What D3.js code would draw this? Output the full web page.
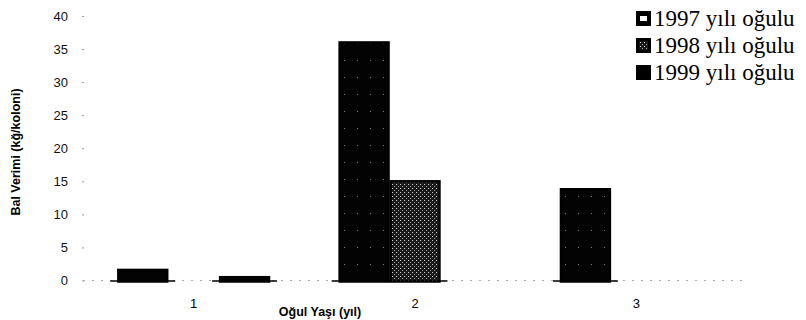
<!DOCTYPE html>
<html>
<head>
<meta charset="utf-8">
<script src="https://cdn.jsdelivr.net/npm/d3@7/dist/d3.min.js"></script>
<style>
body { margin: 0; background: #fff; }
</style>
</head>
<body>
<div id="chart"></div>
<script>
// data
var categories = ["1", "2", "3"];
var seriesNames = ["1997 yılı oğulu", "1998 yılı oğulu", "1999 yılı oğulu"];
var values1997 = [1.6, 36, 13.8];
var values1998 = [0, 15, 0];
var values1999 = [0.5, 0, 0];
var yTicks = [0, 5, 10, 15, 20, 25, 30, 35, 40];

var yTitle = "Bal Verimi (kğ/koloni)";
var xTitle = "Oğul Yaşı (yıl)";

var allValues = [values1997, values1998, values1999];

var width = 806, height = 320;
var plot = { left: 83, right: 747, top: 16, bottom: 280.5 };

var svg = d3.select("#chart").append("svg")
    .attr("width", width)
    .attr("height", height);

// fill patterns to mimic the scanned hatching
var defs = svg.append("defs");
var p97 = defs.append("pattern").attr("id", "p1997")
    .attr("patternUnits", "userSpaceOnUse").attr("width", 13).attr("height", 17);
p97.append("rect").attr("width", 13).attr("height", 17).attr("fill", "#030303");
p97.append("rect").attr("x", 6).attr("y", 9).attr("width", 1).attr("height", 1).attr("fill", "#777");

var p98 = defs.append("pattern").attr("id", "p1998")
    .attr("patternUnits", "userSpaceOnUse").attr("width", 4).attr("height", 4);
p98.append("rect").attr("width", 4).attr("height", 4).attr("fill", "#1a1a1a");
p98.append("rect").attr("x", 0).attr("y", 0).attr("width", 1).attr("height", 1).attr("fill", "#d8d8d8");
p98.append("rect").attr("x", 2).attr("y", 2).attr("width", 1).attr("height", 1).attr("fill", "#a0a0a0");

var fills = ["url(#p1997)", "url(#p1998)", "#000"];

var x = d3.scaleBand().domain(categories).range([plot.left, plot.right]).padding(0);
var bw = x.bandwidth();
var xInner = d3.scaleBand().domain(d3.range(seriesNames.length))
    .range([bw * 0.155, bw * 0.845]).padding(0);
var y = d3.scaleLinear().domain([0, 40]).range([plot.bottom, plot.top]);

// y axis: labels and tiny tick dots, no axis line
var yAxis = d3.axisLeft(y).tickValues(yTicks).tickSize(2).tickPadding(14);
var gy = svg.append("g").attr("transform", "translate(" + (plot.left + 1) + ",0)").call(yAxis);
gy.select(".domain").remove();
gy.selectAll(".tick line").attr("stroke", "#999");
gy.selectAll(".tick text")
    .attr("font-family", "Liberation Sans, Arial, sans-serif")
    .attr("font-size", 13)
    .attr("fill", "#111");

// faint base line
svg.append("line")
    .attr("x1", plot.left).attr("x2", plot.right)
    .attr("y1", y(0)).attr("y2", y(0))
    .attr("stroke", "#aaa").attr("stroke-width", 1)
    .attr("stroke-dasharray", "2,7");

// bars
var bars = [];
allValues.forEach(function(vals, s) {
    vals.forEach(function(v, c) {
        if (v > 0) bars.push({ series: s, cat: categories[c], value: v });
    });
});

var gBars = svg.append("g");
gBars.selectAll(".baseSeg").data(bars).enter().append("line")
    .attr("x1", function(d) { return x(d.cat) + xInner(d.series) - 7; })
    .attr("x2", function(d) { return x(d.cat) + xInner(d.series) + xInner.bandwidth() + 7; })
    .attr("y1", y(0) + 0.5).attr("y2", y(0) + 0.5)
    .attr("stroke", "#000").attr("stroke-width", 1.3);

gBars.selectAll(".bar").data(bars).enter().append("rect")
    .attr("class", "bar")
    .attr("x", function(d) { return x(d.cat) + xInner(d.series) + 1; })
    .attr("width", xInner.bandwidth() - 2)
    .attr("y", function(d) { return y(d.value); })
    .attr("height", function(d) { return y(0) - y(d.value) + 1; })
    .attr("fill", function(d) { return fills[d.series]; })
    .attr("stroke", "#000")
    .attr("stroke-width", 2.5);

// category labels
var xAxis = d3.axisBottom(x).tickSize(0).tickPadding(18);
var gx = svg.append("g").attr("transform", "translate(0," + y(0) + ")").call(xAxis);
gx.select(".domain").remove();
gx.selectAll(".tick text")
    .attr("font-family", "Liberation Sans, Arial, sans-serif")
    .attr("font-size", 13)
    .attr("fill", "#000");

// axis titles
svg.append("text")
    .attr("transform", "translate(20,152) rotate(-90)")
    .attr("text-anchor", "middle")
    .attr("font-family", "Liberation Sans, Arial, sans-serif")
    .attr("font-weight", "bold")
    .attr("font-size", 12.5)
    .text(yTitle);

svg.append("text")
    .attr("x", 320).attr("y", 316)
    .attr("text-anchor", "middle")
    .attr("font-family", "Liberation Sans, Arial, sans-serif")
    .attr("font-weight", "bold")
    .attr("font-size", 12.5)
    .text(xTitle);

// legend
var legend = svg.append("g").attr("transform", "translate(636,11)");
var items = legend.selectAll(".item").data(seriesNames).enter().append("g")
    .attr("transform", function(d, i) { return "translate(0," + (i * 27) + ")"; });
items.append("rect")
    .attr("width", 15).attr("height", 15)
    .attr("fill", "#000");
items.filter(function(d, i) { return i == 0; }).append("rect")
    .attr("x", 4).attr("y", 5).attr("width", 7).attr("height", 5).attr("fill", "#fff");
items.filter(function(d, i) { return i == 1; }).append("rect")
    .attr("x", 3).attr("y", 3).attr("width", 9).attr("height", 9).attr("fill", "url(#p1998)");
items.append("text")
    .attr("x", 18).attr("y", 15)
    .attr("font-family", "Liberation Serif, Times New Roman, serif")
    .attr("font-size", 23)
    .attr("fill", "#000")
    .text(function(d) { return d; });
</script>
</body>
</html>
